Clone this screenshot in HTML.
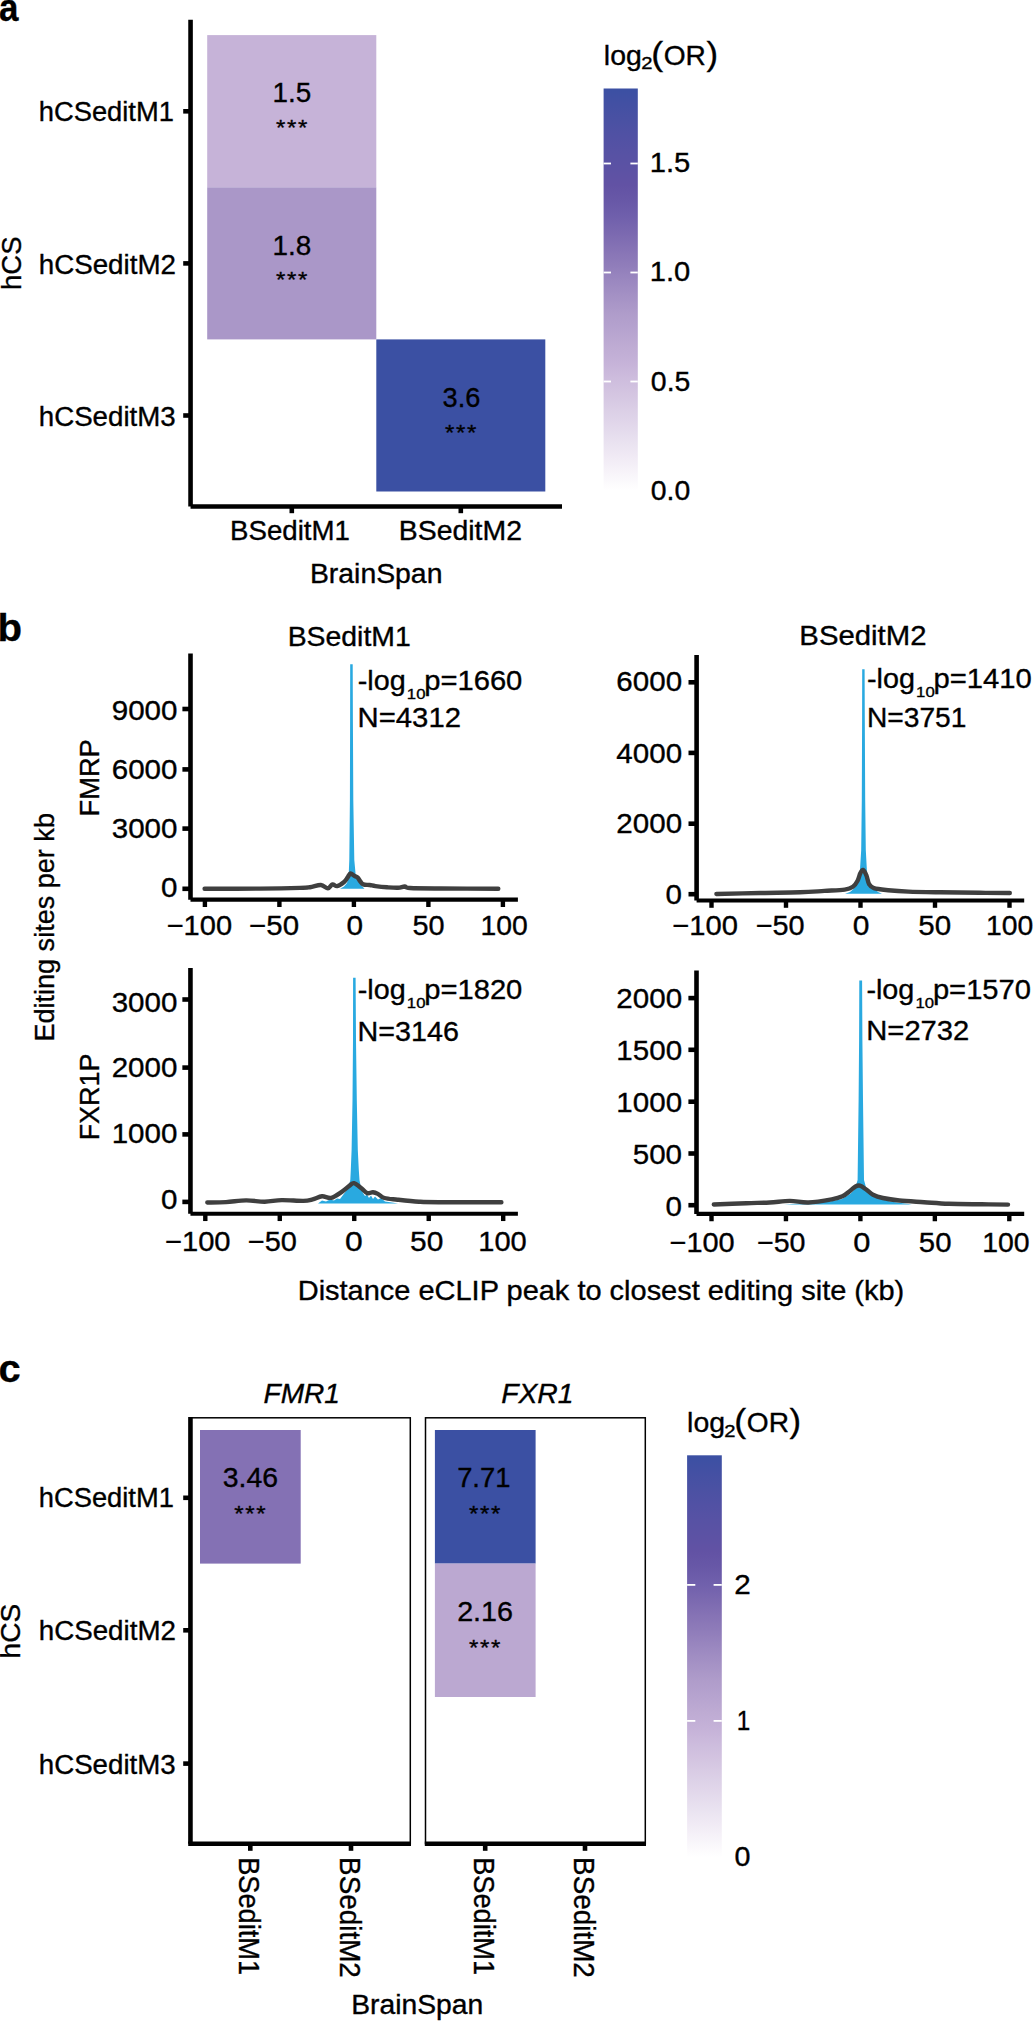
<!DOCTYPE html>
<html><head><meta charset="utf-8"><style>
html,body{margin:0;padding:0;background:#fff;width:1033px;height:2021px;overflow:hidden}
svg{display:block}
text{font-family:"Liberation Sans",sans-serif;stroke:#000;stroke-width:0.35px}
</style></head><body>
<svg width="1033" height="2021" viewBox="0 0 1033 2021">
<defs><linearGradient id="ga" x1="0" y1="1" x2="0" y2="0"><stop offset="0.000" stop-color="rgb(255,255,255)"/><stop offset="0.040" stop-color="rgb(248,245,250)"/><stop offset="0.080" stop-color="rgb(241,235,245)"/><stop offset="0.120" stop-color="rgb(233,226,240)"/><stop offset="0.160" stop-color="rgb(226,216,235)"/><stop offset="0.200" stop-color="rgb(219,207,230)"/><stop offset="0.240" stop-color="rgb(212,197,225)"/><stop offset="0.280" stop-color="rgb(205,188,221)"/><stop offset="0.320" stop-color="rgb(197,178,216)"/><stop offset="0.360" stop-color="rgb(190,171,211)"/><stop offset="0.400" stop-color="rgb(182,163,207)"/><stop offset="0.440" stop-color="rgb(175,156,202)"/><stop offset="0.480" stop-color="rgb(165,146,197)"/><stop offset="0.520" stop-color="rgb(155,136,192)"/><stop offset="0.560" stop-color="rgb(144,125,186)"/><stop offset="0.600" stop-color="rgb(134,115,181)"/><stop offset="0.640" stop-color="rgb(123,105,176)"/><stop offset="0.680" stop-color="rgb(112,96,172)"/><stop offset="0.720" stop-color="rgb(104,88,167)"/><stop offset="0.760" stop-color="rgb(98,82,164)"/><stop offset="0.800" stop-color="rgb(92,82,164)"/><stop offset="0.840" stop-color="rgb(87,82,164)"/><stop offset="0.880" stop-color="rgb(81,81,164)"/><stop offset="0.920" stop-color="rgb(74,81,163)"/><stop offset="0.960" stop-color="rgb(67,80,163)"/><stop offset="1.000" stop-color="rgb(59,80,163)"/></linearGradient><linearGradient id="gc" x1="0" y1="1" x2="0" y2="0"><stop offset="0.000" stop-color="rgb(255,255,255)"/><stop offset="0.040" stop-color="rgb(248,245,250)"/><stop offset="0.080" stop-color="rgb(241,235,245)"/><stop offset="0.120" stop-color="rgb(233,226,240)"/><stop offset="0.160" stop-color="rgb(226,216,235)"/><stop offset="0.200" stop-color="rgb(219,207,230)"/><stop offset="0.240" stop-color="rgb(212,197,225)"/><stop offset="0.280" stop-color="rgb(205,188,221)"/><stop offset="0.320" stop-color="rgb(197,178,216)"/><stop offset="0.360" stop-color="rgb(190,171,211)"/><stop offset="0.400" stop-color="rgb(182,163,207)"/><stop offset="0.440" stop-color="rgb(175,156,202)"/><stop offset="0.480" stop-color="rgb(165,146,197)"/><stop offset="0.520" stop-color="rgb(155,136,192)"/><stop offset="0.560" stop-color="rgb(144,125,186)"/><stop offset="0.600" stop-color="rgb(134,115,181)"/><stop offset="0.640" stop-color="rgb(123,105,176)"/><stop offset="0.680" stop-color="rgb(112,96,172)"/><stop offset="0.720" stop-color="rgb(104,88,167)"/><stop offset="0.760" stop-color="rgb(98,82,164)"/><stop offset="0.800" stop-color="rgb(92,82,164)"/><stop offset="0.840" stop-color="rgb(87,82,164)"/><stop offset="0.880" stop-color="rgb(81,81,164)"/><stop offset="0.920" stop-color="rgb(74,81,163)"/><stop offset="0.960" stop-color="rgb(67,80,163)"/><stop offset="1.000" stop-color="rgb(59,80,163)"/></linearGradient></defs>
<rect x="0" y="0" width="1033" height="2021" fill="#fff"/>
<text x="-1.05" y="20.60" font-size="38.50" font-weight="bold" textLength="19.43" lengthAdjust="spacingAndGlyphs" fill="#000">a</text>
<rect x="207.20" y="35.10" width="169.10" height="152.20" fill="#c6b3d8"/>
<rect x="207.20" y="187.30" width="169.10" height="152.10" fill="#aa97c8"/>
<rect x="376.30" y="339.40" width="169.00" height="152.10" fill="#3b50a3"/>
<text x="272.51" y="102.40" font-size="27.00" textLength="38.71" lengthAdjust="spacingAndGlyphs" fill="#000">1.5</text>
<text transform="translate(275.88 135.22) scale(0.998 0.917)" x="0" y="0" font-size="24" stroke="#000" stroke-width="0.55" fill="#000">*</text>
<text transform="translate(286.93 135.22) scale(0.998 0.917)" x="0" y="0" font-size="24" stroke="#000" stroke-width="0.55" fill="#000">*</text>
<text transform="translate(297.98 135.22) scale(0.998 0.917)" x="0" y="0" font-size="24" stroke="#000" stroke-width="0.55" fill="#000">*</text>
<text x="272.51" y="254.60" font-size="27.00" textLength="38.78" lengthAdjust="spacingAndGlyphs" fill="#000">1.8</text>
<text transform="translate(275.88 287.43) scale(0.998 0.917)" x="0" y="0" font-size="24" stroke="#000" stroke-width="0.55" fill="#000">*</text>
<text transform="translate(286.93 287.43) scale(0.998 0.917)" x="0" y="0" font-size="24" stroke="#000" stroke-width="0.55" fill="#000">*</text>
<text transform="translate(297.98 287.43) scale(0.998 0.917)" x="0" y="0" font-size="24" stroke="#000" stroke-width="0.55" fill="#000">*</text>
<text x="442.58" y="406.70" font-size="27.00" textLength="37.78" lengthAdjust="spacingAndGlyphs" fill="#000">3.6</text>
<text transform="translate(444.88 439.52) scale(0.998 0.917)" x="0" y="0" font-size="24" stroke="#000" stroke-width="0.55" fill="#000">*</text>
<text transform="translate(455.93 439.52) scale(0.998 0.917)" x="0" y="0" font-size="24" stroke="#000" stroke-width="0.55" fill="#000">*</text>
<text transform="translate(466.98 439.52) scale(0.998 0.917)" x="0" y="0" font-size="24" stroke="#000" stroke-width="0.55" fill="#000">*</text>
<line x1="190.55" y1="19.70" x2="190.55" y2="506.50" stroke="#000" stroke-width="4.60" stroke-linecap="butt"/>
<line x1="190.55" y1="506.50" x2="562.00" y2="506.50" stroke="#000" stroke-width="4.40" stroke-linecap="butt"/>
<line x1="183.20" y1="111.30" x2="190.00" y2="111.30" stroke="#000" stroke-width="4.60" stroke-linecap="butt"/>
<line x1="183.20" y1="263.40" x2="190.00" y2="263.40" stroke="#000" stroke-width="4.60" stroke-linecap="butt"/>
<line x1="183.20" y1="415.50" x2="190.00" y2="415.50" stroke="#000" stroke-width="4.60" stroke-linecap="butt"/>
<line x1="291.80" y1="506.00" x2="291.80" y2="513.20" stroke="#000" stroke-width="4.60" stroke-linecap="butt"/>
<line x1="460.80" y1="506.00" x2="460.80" y2="513.20" stroke="#000" stroke-width="4.60" stroke-linecap="butt"/>
<text x="38.79" y="121.30" font-size="27.00" textLength="135.06" lengthAdjust="spacingAndGlyphs" fill="#000">hCSeditM1</text>
<text x="38.76" y="273.50" font-size="27.00" textLength="137.18" lengthAdjust="spacingAndGlyphs" fill="#000">hCSeditM2</text>
<text x="38.76" y="425.60" font-size="27.00" textLength="136.97" lengthAdjust="spacingAndGlyphs" fill="#000">hCSeditM3</text>
<text transform="translate(20.60 288.10) rotate(-90)" x="-1.93" y="0" font-size="27.00" textLength="53.54" lengthAdjust="spacingAndGlyphs" fill="#000">hCS</text>
<text x="230.12" y="539.70" font-size="27.00" textLength="119.81" lengthAdjust="spacingAndGlyphs" fill="#000">BSeditM1</text>
<text x="398.86" y="539.70" font-size="27.00" textLength="123.08" lengthAdjust="spacingAndGlyphs" fill="#000">BSeditM2</text>
<text x="309.96" y="583.00" font-size="27.00" textLength="132.48" lengthAdjust="spacingAndGlyphs" fill="#000">BrainSpan</text>
<rect x="603.6" y="88.5" width="34.2" height="402" fill="url(#ga)"/>
<line x1="603.60" y1="381.50" x2="611.00" y2="381.50" stroke="#fff" stroke-width="1.80" stroke-linecap="butt"/>
<line x1="630.40" y1="381.50" x2="637.80" y2="381.50" stroke="#fff" stroke-width="1.80" stroke-linecap="butt"/>
<line x1="603.60" y1="272.50" x2="611.00" y2="272.50" stroke="#fff" stroke-width="1.80" stroke-linecap="butt"/>
<line x1="630.40" y1="272.50" x2="637.80" y2="272.50" stroke="#fff" stroke-width="1.80" stroke-linecap="butt"/>
<line x1="603.60" y1="163.50" x2="611.00" y2="163.50" stroke="#fff" stroke-width="1.80" stroke-linecap="butt"/>
<line x1="630.40" y1="163.50" x2="637.80" y2="163.50" stroke="#fff" stroke-width="1.80" stroke-linecap="butt"/>
<text x="603.88" y="64.60" font-size="27.50" textLength="37.95" lengthAdjust="spacingAndGlyphs" fill="#000">log</text>
<text x="641.19" y="69.30" font-size="17.00" textLength="11.25" lengthAdjust="spacingAndGlyphs" fill="#000">2</text>
<text x="651.16" y="64.60" font-size="34.00" textLength="11.93" lengthAdjust="spacingAndGlyphs" fill="#000">(</text>
<text x="663.66" y="64.60" font-size="28.00" textLength="42.17" lengthAdjust="spacingAndGlyphs" fill="#000">OR</text>
<text x="706.44" y="64.60" font-size="34.00" textLength="11.54" lengthAdjust="spacingAndGlyphs" fill="#000">)</text>
<text x="649.81" y="172.30" font-size="27.00" textLength="40.56" lengthAdjust="spacingAndGlyphs" fill="#000">1.5</text>
<text x="649.82" y="281.30" font-size="27.00" textLength="40.48" lengthAdjust="spacingAndGlyphs" fill="#000">1.0</text>
<text x="650.86" y="391.10" font-size="27.00" textLength="39.48" lengthAdjust="spacingAndGlyphs" fill="#000">0.5</text>
<text x="650.87" y="500.00" font-size="27.00" textLength="39.40" lengthAdjust="spacingAndGlyphs" fill="#000">0.0</text>
<text x="-2.61" y="641.00" font-size="38.50" font-weight="bold" textLength="24.55" lengthAdjust="spacingAndGlyphs" fill="#000">b</text>
<line x1="190.50" y1="653.60" x2="190.50" y2="899.70" stroke="#000" stroke-width="4.60" stroke-linecap="butt"/>
<line x1="190.50" y1="899.70" x2="517.90" y2="899.70" stroke="#000" stroke-width="4.20" stroke-linecap="butt"/>
<line x1="182.40" y1="888.80" x2="189.50" y2="888.80" stroke="#000" stroke-width="4.60" stroke-linecap="butt"/>
<text x="161.01" y="896.63" font-size="28.00" textLength="16.43" lengthAdjust="spacingAndGlyphs" fill="#000">0</text>
<line x1="182.40" y1="828.60" x2="189.50" y2="828.60" stroke="#000" stroke-width="4.60" stroke-linecap="butt"/>
<text x="111.76" y="837.93" font-size="28.00" textLength="65.72" lengthAdjust="spacingAndGlyphs" fill="#000">3000</text>
<line x1="182.40" y1="769.40" x2="189.50" y2="769.40" stroke="#000" stroke-width="4.60" stroke-linecap="butt"/>
<text x="111.76" y="779.13" font-size="28.00" textLength="65.72" lengthAdjust="spacingAndGlyphs" fill="#000">6000</text>
<line x1="182.40" y1="709.00" x2="189.50" y2="709.00" stroke="#000" stroke-width="4.60" stroke-linecap="butt"/>
<text x="111.76" y="720.43" font-size="28.00" textLength="65.72" lengthAdjust="spacingAndGlyphs" fill="#000">9000</text>
<line x1="204.90" y1="900.70" x2="204.90" y2="907.00" stroke="#000" stroke-width="4.40" stroke-linecap="butt"/>
<text x="166.65" y="935.13" font-size="28.00" textLength="65.44" lengthAdjust="spacingAndGlyphs" fill="#000">−100</text>
<line x1="279.40" y1="900.70" x2="279.40" y2="907.00" stroke="#000" stroke-width="4.40" stroke-linecap="butt"/>
<text x="249.13" y="935.13" font-size="28.00" textLength="49.91" lengthAdjust="spacingAndGlyphs" fill="#000">−50</text>
<line x1="353.90" y1="900.70" x2="353.90" y2="907.00" stroke="#000" stroke-width="4.40" stroke-linecap="butt"/>
<text x="346.41" y="935.13" font-size="28.00" textLength="16.54" lengthAdjust="spacingAndGlyphs" fill="#000">0</text>
<line x1="428.40" y1="900.70" x2="428.40" y2="907.00" stroke="#000" stroke-width="4.40" stroke-linecap="butt"/>
<text x="412.45" y="935.13" font-size="28.00" textLength="32.10" lengthAdjust="spacingAndGlyphs" fill="#000">50</text>
<line x1="502.90" y1="900.70" x2="502.90" y2="907.00" stroke="#000" stroke-width="4.40" stroke-linecap="butt"/>
<text x="480.48" y="935.13" font-size="28.00" textLength="47.21" lengthAdjust="spacingAndGlyphs" fill="#000">100</text>
<polygon points="340.0,888.8 344.0,886.5 347.0,883.0 348.6,877.0 349.3,860.0 349.9,800.0 350.1,720.0 350.2,664.2 352.7,664.2 352.9,720.0 353.3,800.0 354.3,860.0 355.6,874.0 358.0,880.0 361.0,885.0 364.5,888.8" fill="#29a9e0"/>
<path d="M204.60,888.80 C213.83,888.77 244.10,888.75 260.00,888.60 C275.90,888.45 291.67,888.13 300.00,887.90 C308.33,887.67 306.52,887.68 310.00,887.20 C313.48,886.72 317.92,884.82 320.90,885.00 C323.88,885.18 325.97,888.40 327.90,888.30 C329.83,888.20 330.95,884.77 332.50,884.40 C334.05,884.03 335.27,886.50 337.20,886.10 C339.13,885.70 342.37,883.45 344.10,882.00 C345.83,880.55 346.53,878.83 347.60,877.40 C348.67,875.97 349.43,873.68 350.50,873.40 C351.57,873.12 352.83,875.03 354.00,875.70 C355.17,876.37 356.43,876.43 357.50,877.40 C358.57,878.37 359.43,880.33 360.40,881.50 C361.37,882.67 361.75,883.82 363.30,884.40 C364.85,884.98 367.67,884.72 369.70,885.00 C371.73,885.28 372.60,885.72 375.50,886.10 C378.40,886.48 383.35,887.02 387.10,887.30 C390.85,887.58 395.08,887.93 398.00,887.80 C400.92,887.67 402.60,886.47 404.60,886.50 C406.60,886.53 404.10,887.67 410.00,888.00 C415.90,888.33 425.28,888.37 440.00,888.50 C454.72,888.63 488.58,888.75 498.30,888.80" fill="none" stroke="#3f3f3f" stroke-width="4.4" stroke-linejoin="round" stroke-linecap="round"/>
<text x="357.70" y="689.70" font-size="28.00" textLength="47.99" lengthAdjust="spacingAndGlyphs" fill="#000">-log</text>
<text x="406.84" y="698.70" font-size="15.50" textLength="18.62" lengthAdjust="spacingAndGlyphs" fill="#000">10</text>
<text x="424.20" y="689.70" font-size="28.00" textLength="98.16" lengthAdjust="spacingAndGlyphs" fill="#000">p=1660</text>
<text x="357.58" y="727.10" font-size="28.00" textLength="103.40" lengthAdjust="spacingAndGlyphs" fill="#000">N=4312</text>
<line x1="696.60" y1="654.90" x2="696.60" y2="900.50" stroke="#000" stroke-width="4.60" stroke-linecap="butt"/>
<line x1="696.60" y1="900.50" x2="1024.20" y2="900.50" stroke="#000" stroke-width="4.20" stroke-linecap="butt"/>
<line x1="688.50" y1="894.20" x2="695.60" y2="894.20" stroke="#000" stroke-width="4.60" stroke-linecap="butt"/>
<text x="665.61" y="903.93" font-size="28.00" textLength="16.43" lengthAdjust="spacingAndGlyphs" fill="#000">0</text>
<line x1="688.50" y1="823.70" x2="695.60" y2="823.70" stroke="#000" stroke-width="4.60" stroke-linecap="butt"/>
<text x="616.36" y="833.43" font-size="28.00" textLength="65.72" lengthAdjust="spacingAndGlyphs" fill="#000">2000</text>
<line x1="688.50" y1="752.90" x2="695.60" y2="752.90" stroke="#000" stroke-width="4.60" stroke-linecap="butt"/>
<text x="616.36" y="762.63" font-size="28.00" textLength="65.72" lengthAdjust="spacingAndGlyphs" fill="#000">4000</text>
<line x1="688.50" y1="682.30" x2="695.60" y2="682.30" stroke="#000" stroke-width="4.60" stroke-linecap="butt"/>
<text x="616.36" y="690.63" font-size="28.00" textLength="65.72" lengthAdjust="spacingAndGlyphs" fill="#000">6000</text>
<line x1="711.50" y1="901.50" x2="711.50" y2="907.80" stroke="#000" stroke-width="4.40" stroke-linecap="butt"/>
<text x="672.34" y="935.33" font-size="28.00" textLength="65.65" lengthAdjust="spacingAndGlyphs" fill="#000">−100</text>
<line x1="786.00" y1="901.50" x2="786.00" y2="907.80" stroke="#000" stroke-width="4.40" stroke-linecap="butt"/>
<text x="755.66" y="935.33" font-size="28.00" textLength="48.96" lengthAdjust="spacingAndGlyphs" fill="#000">−50</text>
<line x1="860.50" y1="901.50" x2="860.50" y2="907.80" stroke="#000" stroke-width="4.40" stroke-linecap="butt"/>
<text x="852.80" y="935.33" font-size="28.00" textLength="16.66" lengthAdjust="spacingAndGlyphs" fill="#000">0</text>
<line x1="935.00" y1="901.50" x2="935.00" y2="907.80" stroke="#000" stroke-width="4.40" stroke-linecap="butt"/>
<text x="918.22" y="935.33" font-size="28.00" textLength="32.86" lengthAdjust="spacingAndGlyphs" fill="#000">50</text>
<line x1="1009.50" y1="901.50" x2="1009.50" y2="907.80" stroke="#000" stroke-width="4.40" stroke-linecap="butt"/>
<text x="986.08" y="935.33" font-size="28.00" textLength="47.21" lengthAdjust="spacingAndGlyphs" fill="#000">100</text>
<polygon points="845.0,893.8 850.0,892.0 854.0,888.5 857.5,883.0 859.6,876.0 861.2,850.0 861.8,800.0 862.1,720.0 862.2,669.3 864.6,669.3 864.8,720.0 865.2,800.0 865.8,850.0 867.2,876.0 870.0,883.0 874.0,888.5 878.0,892.0 882.0,893.8" fill="#29a9e0"/>
<path d="M716.40,894.00 C723.67,893.83 746.07,893.28 760.00,893.00 C773.93,892.72 789.27,892.65 800.00,892.30 C810.73,891.95 816.95,891.35 824.40,890.90 C831.85,890.45 839.95,890.28 844.70,889.60 C849.45,888.92 850.75,888.28 852.90,886.80 C855.05,885.32 856.37,882.95 857.60,880.70 C858.83,878.45 859.40,875.10 860.30,873.30 C861.20,871.50 861.98,869.57 863.00,869.90 C864.02,870.23 865.38,872.93 866.40,875.30 C867.42,877.67 867.85,881.95 869.10,884.10 C870.35,886.25 870.73,887.18 873.90,888.20 C877.07,889.22 882.35,889.63 888.10,890.20 C893.85,890.77 899.75,891.25 908.40,891.60 C917.05,891.95 928.07,892.10 940.00,892.30 C951.93,892.50 968.37,892.68 980.00,892.80 C991.63,892.92 1004.83,892.97 1009.80,893.00" fill="none" stroke="#3f3f3f" stroke-width="4.4" stroke-linejoin="round" stroke-linecap="round"/>
<text x="867.00" y="687.80" font-size="28.00" textLength="47.99" lengthAdjust="spacingAndGlyphs" fill="#000">-log</text>
<text x="916.14" y="696.80" font-size="15.50" textLength="18.62" lengthAdjust="spacingAndGlyphs" fill="#000">10</text>
<text x="933.50" y="687.80" font-size="28.00" textLength="98.36" lengthAdjust="spacingAndGlyphs" fill="#000">p=1410</text>
<text x="866.98" y="727.30" font-size="28.00" textLength="99.48" lengthAdjust="spacingAndGlyphs" fill="#000">N=3751</text>
<line x1="190.45" y1="968.10" x2="190.45" y2="1213.75" stroke="#000" stroke-width="4.60" stroke-linecap="butt"/>
<line x1="190.45" y1="1213.75" x2="517.90" y2="1213.75" stroke="#000" stroke-width="4.20" stroke-linecap="butt"/>
<line x1="182.35" y1="1201.90" x2="189.45" y2="1201.90" stroke="#000" stroke-width="4.60" stroke-linecap="butt"/>
<text x="160.91" y="1209.13" font-size="28.00" textLength="16.43" lengthAdjust="spacingAndGlyphs" fill="#000">0</text>
<line x1="182.35" y1="1134.40" x2="189.45" y2="1134.40" stroke="#000" stroke-width="4.60" stroke-linecap="butt"/>
<text x="111.66" y="1142.93" font-size="28.00" textLength="65.72" lengthAdjust="spacingAndGlyphs" fill="#000">1000</text>
<line x1="182.35" y1="1067.60" x2="189.45" y2="1067.60" stroke="#000" stroke-width="4.60" stroke-linecap="butt"/>
<text x="111.66" y="1077.23" font-size="28.00" textLength="65.72" lengthAdjust="spacingAndGlyphs" fill="#000">2000</text>
<line x1="182.35" y1="999.50" x2="189.45" y2="999.50" stroke="#000" stroke-width="4.60" stroke-linecap="butt"/>
<text x="111.66" y="1011.53" font-size="28.00" textLength="65.72" lengthAdjust="spacingAndGlyphs" fill="#000">3000</text>
<line x1="205.30" y1="1214.75" x2="205.30" y2="1221.05" stroke="#000" stroke-width="4.40" stroke-linecap="butt"/>
<text x="164.94" y="1251.43" font-size="28.00" textLength="65.65" lengthAdjust="spacingAndGlyphs" fill="#000">−100</text>
<line x1="279.77" y1="1214.75" x2="279.77" y2="1221.05" stroke="#000" stroke-width="4.40" stroke-linecap="butt"/>
<text x="247.75" y="1251.43" font-size="28.00" textLength="49.07" lengthAdjust="spacingAndGlyphs" fill="#000">−50</text>
<line x1="354.25" y1="1214.75" x2="354.25" y2="1221.05" stroke="#000" stroke-width="4.40" stroke-linecap="butt"/>
<text x="345.03" y="1251.43" font-size="28.00" textLength="17.70" lengthAdjust="spacingAndGlyphs" fill="#000">0</text>
<line x1="428.73" y1="1214.75" x2="428.73" y2="1221.05" stroke="#000" stroke-width="4.40" stroke-linecap="butt"/>
<text x="410.10" y="1251.43" font-size="28.00" textLength="33.29" lengthAdjust="spacingAndGlyphs" fill="#000">50</text>
<line x1="503.20" y1="1214.75" x2="503.20" y2="1221.05" stroke="#000" stroke-width="4.40" stroke-linecap="butt"/>
<text x="478.22" y="1251.43" font-size="28.00" textLength="48.50" lengthAdjust="spacingAndGlyphs" fill="#000">100</text>
<polygon points="318.0,1203.5 322.0,1200.5 326.0,1201.5 330.0,1199.5 334.0,1200.5 337.0,1198.5 340.0,1199.0 343.0,1195.0 346.0,1191.0 348.5,1187.0 350.3,1180.0 350.8,1170.0 351.6,1150.0 352.5,1100.0 353.0,1040.0 353.1,977.8 355.6,977.8 356.0,1040.0 356.8,1100.0 357.8,1150.0 358.8,1170.0 359.5,1180.0 361.0,1188.0 363.0,1193.0 365.0,1196.0 367.0,1194.5 369.0,1198.0 371.0,1195.5 373.0,1199.0 375.0,1196.5 378.0,1199.5 381.0,1198.0 385.0,1201.5 392.0,1202.5 398.0,1203.5" fill="#29a9e0"/>
<path d="M207.30,1202.50 C210.42,1202.43 219.53,1202.45 226.00,1202.10 C232.47,1201.75 239.65,1200.47 246.10,1200.40 C252.55,1200.33 258.77,1201.75 264.70,1201.70 C270.63,1201.65 275.25,1200.23 281.70,1200.10 C288.15,1199.97 298.23,1201.02 303.40,1200.90 C308.57,1200.78 309.60,1200.17 312.70,1199.40 C315.80,1198.63 318.90,1196.57 322.00,1196.30 C325.10,1196.03 327.95,1198.58 331.30,1197.80 C334.65,1197.02 339.00,1193.67 342.10,1191.60 C345.20,1189.53 347.92,1186.80 349.90,1185.40 C351.88,1184.00 352.08,1182.73 354.00,1183.20 C355.92,1183.67 359.20,1186.55 361.40,1188.20 C363.60,1189.85 365.28,1192.42 367.20,1193.10 C369.12,1193.78 371.12,1192.17 372.90,1192.30 C374.68,1192.43 375.98,1192.95 377.90,1193.90 C379.82,1194.85 381.12,1197.03 384.40,1198.00 C387.68,1198.97 391.83,1199.08 397.60,1199.70 C403.37,1200.32 412.15,1201.28 419.00,1201.70 C425.85,1202.12 424.97,1202.12 438.70,1202.20 C452.43,1202.28 490.95,1202.20 501.40,1202.20" fill="none" stroke="#3f3f3f" stroke-width="4.4" stroke-linejoin="round" stroke-linecap="round"/>
<text x="357.70" y="999.40" font-size="28.00" textLength="47.99" lengthAdjust="spacingAndGlyphs" fill="#000">-log</text>
<text x="406.84" y="1008.40" font-size="15.50" textLength="18.62" lengthAdjust="spacingAndGlyphs" fill="#000">10</text>
<text x="424.20" y="999.40" font-size="28.00" textLength="98.16" lengthAdjust="spacingAndGlyphs" fill="#000">p=1820</text>
<text x="357.63" y="1040.80" font-size="28.00" textLength="101.31" lengthAdjust="spacingAndGlyphs" fill="#000">N=3146</text>
<line x1="696.50" y1="970.40" x2="696.50" y2="1213.95" stroke="#000" stroke-width="4.60" stroke-linecap="butt"/>
<line x1="696.50" y1="1213.95" x2="1024.20" y2="1213.95" stroke="#000" stroke-width="4.20" stroke-linecap="butt"/>
<line x1="688.40" y1="1205.20" x2="695.50" y2="1205.20" stroke="#000" stroke-width="4.60" stroke-linecap="butt"/>
<text x="665.61" y="1215.53" font-size="28.00" textLength="16.43" lengthAdjust="spacingAndGlyphs" fill="#000">0</text>
<line x1="688.40" y1="1153.50" x2="695.50" y2="1153.50" stroke="#000" stroke-width="4.60" stroke-linecap="butt"/>
<text x="632.75" y="1163.83" font-size="28.00" textLength="49.29" lengthAdjust="spacingAndGlyphs" fill="#000">500</text>
<line x1="688.40" y1="1101.70" x2="695.50" y2="1101.70" stroke="#000" stroke-width="4.60" stroke-linecap="butt"/>
<text x="616.36" y="1112.03" font-size="28.00" textLength="65.72" lengthAdjust="spacingAndGlyphs" fill="#000">1000</text>
<line x1="688.40" y1="1049.80" x2="695.50" y2="1049.80" stroke="#000" stroke-width="4.60" stroke-linecap="butt"/>
<text x="616.36" y="1060.13" font-size="28.00" textLength="65.72" lengthAdjust="spacingAndGlyphs" fill="#000">1500</text>
<line x1="688.40" y1="998.10" x2="695.50" y2="998.10" stroke="#000" stroke-width="4.60" stroke-linecap="butt"/>
<text x="616.36" y="1008.43" font-size="28.00" textLength="65.72" lengthAdjust="spacingAndGlyphs" fill="#000">2000</text>
<line x1="711.50" y1="1214.95" x2="711.50" y2="1221.25" stroke="#000" stroke-width="4.40" stroke-linecap="butt"/>
<text x="669.55" y="1251.63" font-size="28.00" textLength="65.13" lengthAdjust="spacingAndGlyphs" fill="#000">−100</text>
<line x1="785.95" y1="1214.95" x2="785.95" y2="1221.25" stroke="#000" stroke-width="4.40" stroke-linecap="butt"/>
<text x="756.97" y="1251.63" font-size="28.00" textLength="48.54" lengthAdjust="spacingAndGlyphs" fill="#000">−50</text>
<line x1="860.40" y1="1214.95" x2="860.40" y2="1221.25" stroke="#000" stroke-width="4.40" stroke-linecap="butt"/>
<text x="853.37" y="1251.63" font-size="28.00" textLength="17.12" lengthAdjust="spacingAndGlyphs" fill="#000">0</text>
<line x1="934.85" y1="1214.95" x2="934.85" y2="1221.25" stroke="#000" stroke-width="4.40" stroke-linecap="butt"/>
<text x="918.83" y="1251.63" font-size="28.00" textLength="32.64" lengthAdjust="spacingAndGlyphs" fill="#000">50</text>
<line x1="1009.30" y1="1214.95" x2="1009.30" y2="1221.25" stroke="#000" stroke-width="4.40" stroke-linecap="butt"/>
<text x="982.17" y="1251.63" font-size="28.00" textLength="47.43" lengthAdjust="spacingAndGlyphs" fill="#000">100</text>
<polygon points="784.0,1204.5 800.0,1203.5 830.0,1201.5 842.0,1199.0 850.0,1194.0 855.0,1189.0 857.6,1180.0 858.6,1100.0 859.1,1040.0 859.3,980.5 862.1,980.5 862.4,1040.0 863.0,1100.0 864.0,1180.0 867.0,1191.0 874.0,1197.0 890.0,1201.5 912.0,1204.5" fill="#29a9e0"/>
<path d="M713.80,1204.50 C719.25,1204.28 737.18,1203.53 746.50,1203.20 C755.82,1202.87 762.48,1202.88 769.70,1202.50 C776.92,1202.12 783.35,1200.90 789.80,1200.90 C796.25,1200.90 801.42,1202.75 808.40,1202.50 C815.38,1202.25 826.02,1200.43 831.70,1199.40 C837.38,1198.37 839.42,1197.73 842.50,1196.30 C845.58,1194.87 848.03,1192.43 850.20,1190.80 C852.37,1189.17 853.88,1187.35 855.50,1186.50 C857.12,1185.65 858.07,1185.15 859.90,1185.70 C861.73,1186.25 864.32,1188.30 866.50,1189.80 C868.68,1191.30 870.27,1193.33 873.00,1194.70 C875.73,1196.07 878.50,1197.03 882.90,1198.00 C887.30,1198.97 892.53,1199.80 899.40,1200.50 C906.27,1201.20 915.88,1201.65 924.10,1202.20 C932.32,1202.75 939.10,1203.45 948.70,1203.80 C958.30,1204.15 971.82,1204.17 981.70,1204.30 C991.58,1204.43 1003.62,1204.55 1008.00,1204.60" fill="none" stroke="#3f3f3f" stroke-width="4.4" stroke-linejoin="round" stroke-linecap="round"/>
<text x="866.40" y="999.20" font-size="28.00" textLength="47.99" lengthAdjust="spacingAndGlyphs" fill="#000">-log</text>
<text x="915.54" y="1008.20" font-size="15.50" textLength="18.62" lengthAdjust="spacingAndGlyphs" fill="#000">10</text>
<text x="932.91" y="999.20" font-size="28.00" textLength="98.05" lengthAdjust="spacingAndGlyphs" fill="#000">p=1570</text>
<text x="866.29" y="1040.00" font-size="28.00" textLength="102.99" lengthAdjust="spacingAndGlyphs" fill="#000">N=2732</text>
<text x="287.66" y="646.40" font-size="28.00" textLength="123.11" lengthAdjust="spacingAndGlyphs" fill="#000">BSeditM1</text>
<text x="799.38" y="645.00" font-size="28.00" textLength="127.10" lengthAdjust="spacingAndGlyphs" fill="#000">BSeditM2</text>
<text transform="translate(53.60 1039.40) rotate(-90)" x="-2.23" y="0" font-size="27.00" textLength="228.55" lengthAdjust="spacingAndGlyphs" fill="#000">Editing sites per kb</text>
<text transform="translate(98.60 814.20) rotate(-90)" x="-2.25" y="0" font-size="28.20" textLength="77.19" lengthAdjust="spacingAndGlyphs" fill="#000">FMRP</text>
<text transform="translate(98.80 1138.10) rotate(-90)" x="-2.22" y="0" font-size="28.20" textLength="86.75" lengthAdjust="spacingAndGlyphs" fill="#000">FXR1P</text>
<text x="297.71" y="1299.90" font-size="28.00" textLength="606.57" lengthAdjust="spacingAndGlyphs" fill="#000">Distance eCLIP peak to closest editing site (kb)</text>
<text x="-1.59" y="1381.60" font-size="38.50" font-weight="bold" textLength="22.13" lengthAdjust="spacingAndGlyphs" fill="#000">c</text>
<rect x="200.00" y="1430.00" width="100.70" height="133.60" fill="#8471b4"/>
<rect x="434.90" y="1430.00" width="100.70" height="133.60" fill="#3b50a3"/>
<rect x="434.90" y="1563.60" width="100.70" height="133.40" fill="#bba8d1"/>
<rect x="190.5" y="1417.8" width="219.8" height="425.8" fill="none" stroke="#000" stroke-width="1.5"/>
<rect x="425.5" y="1417.8" width="219.8" height="425.8" fill="none" stroke="#000" stroke-width="1.5"/>
<line x1="190.45" y1="1417.00" x2="190.45" y2="1843.70" stroke="#000" stroke-width="4.60" stroke-linecap="butt"/>
<line x1="188.20" y1="1843.70" x2="411.00" y2="1843.70" stroke="#000" stroke-width="4.40" stroke-linecap="butt"/>
<line x1="424.80" y1="1843.70" x2="646.00" y2="1843.70" stroke="#000" stroke-width="4.40" stroke-linecap="butt"/>
<line x1="183.20" y1="1497.80" x2="190.00" y2="1497.80" stroke="#000" stroke-width="4.60" stroke-linecap="butt"/>
<line x1="183.20" y1="1630.30" x2="190.00" y2="1630.30" stroke="#000" stroke-width="4.60" stroke-linecap="butt"/>
<line x1="183.20" y1="1763.60" x2="190.00" y2="1763.60" stroke="#000" stroke-width="4.60" stroke-linecap="butt"/>
<line x1="250.30" y1="1843.00" x2="250.30" y2="1850.80" stroke="#000" stroke-width="4.60" stroke-linecap="butt"/>
<line x1="351.00" y1="1843.00" x2="351.00" y2="1850.80" stroke="#000" stroke-width="4.60" stroke-linecap="butt"/>
<line x1="485.20" y1="1843.00" x2="485.20" y2="1850.80" stroke="#000" stroke-width="4.60" stroke-linecap="butt"/>
<line x1="585.00" y1="1843.00" x2="585.00" y2="1850.80" stroke="#000" stroke-width="4.60" stroke-linecap="butt"/>
<text x="38.79" y="1506.90" font-size="27.00" textLength="135.06" lengthAdjust="spacingAndGlyphs" fill="#000">hCSeditM1</text>
<text x="38.76" y="1640.00" font-size="27.00" textLength="137.18" lengthAdjust="spacingAndGlyphs" fill="#000">hCSeditM2</text>
<text x="38.76" y="1773.60" font-size="27.00" textLength="136.97" lengthAdjust="spacingAndGlyphs" fill="#000">hCSeditM3</text>
<text transform="translate(20.30 1656.50) rotate(-90)" x="-1.96" y="0" font-size="27.00" textLength="54.61" lengthAdjust="spacingAndGlyphs" fill="#000">hCS</text>
<text x="263.56" y="1403.10" font-size="27.00" font-style="italic" textLength="76.42" lengthAdjust="spacingAndGlyphs" fill="#000">FMR1</text>
<text x="501.15" y="1403.00" font-size="27.00" font-style="italic" textLength="72.42" lengthAdjust="spacingAndGlyphs" fill="#000">FXR1</text>
<text x="222.73" y="1487.33" font-size="27.00" textLength="55.31" lengthAdjust="spacingAndGlyphs" fill="#000">3.46</text>
<text transform="translate(234.18 1521.22) scale(0.998 0.917)" x="0" y="0" font-size="24" stroke="#000" stroke-width="0.55" fill="#000">*</text>
<text transform="translate(245.23 1521.22) scale(0.998 0.917)" x="0" y="0" font-size="24" stroke="#000" stroke-width="0.55" fill="#000">*</text>
<text transform="translate(256.28 1521.22) scale(0.998 0.917)" x="0" y="0" font-size="24" stroke="#000" stroke-width="0.55" fill="#000">*</text>
<text x="457.16" y="1487.06" font-size="27.00" textLength="53.27" lengthAdjust="spacingAndGlyphs" fill="#000">7.71</text>
<text transform="translate(468.88 1521.22) scale(0.998 0.917)" x="0" y="0" font-size="24" stroke="#000" stroke-width="0.55" fill="#000">*</text>
<text transform="translate(479.93 1521.22) scale(0.998 0.917)" x="0" y="0" font-size="24" stroke="#000" stroke-width="0.55" fill="#000">*</text>
<text transform="translate(490.98 1521.22) scale(0.998 0.917)" x="0" y="0" font-size="24" stroke="#000" stroke-width="0.55" fill="#000">*</text>
<text x="457.16" y="1621.13" font-size="27.00" textLength="55.89" lengthAdjust="spacingAndGlyphs" fill="#000">2.16</text>
<text transform="translate(468.88 1654.83) scale(0.998 0.917)" x="0" y="0" font-size="24" stroke="#000" stroke-width="0.55" fill="#000">*</text>
<text transform="translate(479.93 1654.83) scale(0.998 0.917)" x="0" y="0" font-size="24" stroke="#000" stroke-width="0.55" fill="#000">*</text>
<text transform="translate(490.98 1654.83) scale(0.998 0.917)" x="0" y="0" font-size="24" stroke="#000" stroke-width="0.55" fill="#000">*</text>
<text transform="translate(239.40 1859.40) rotate(90)" x="-2.25" y="0" font-size="28.60" textLength="118.05" lengthAdjust="spacingAndGlyphs" fill="#000">BSeditM1</text>
<text transform="translate(340.00 1859.40) rotate(90)" x="-2.30" y="0" font-size="28.60" textLength="120.70" lengthAdjust="spacingAndGlyphs" fill="#000">BSeditM2</text>
<text transform="translate(473.60 1859.40) rotate(90)" x="-2.25" y="0" font-size="28.60" textLength="118.05" lengthAdjust="spacingAndGlyphs" fill="#000">BSeditM1</text>
<text transform="translate(574.30 1859.40) rotate(90)" x="-2.30" y="0" font-size="28.60" textLength="120.70" lengthAdjust="spacingAndGlyphs" fill="#000">BSeditM2</text>
<text x="351.27" y="2014.20" font-size="27.00" textLength="131.97" lengthAdjust="spacingAndGlyphs" fill="#000">BrainSpan</text>
<rect x="687.1" y="1455.3" width="34.7" height="401.6" fill="url(#gc)"/>
<line x1="687.10" y1="1720.90" x2="695.30" y2="1720.90" stroke="#fff" stroke-width="1.80" stroke-linecap="butt"/>
<line x1="713.60" y1="1720.90" x2="721.80" y2="1720.90" stroke="#fff" stroke-width="1.80" stroke-linecap="butt"/>
<line x1="687.10" y1="1584.90" x2="695.30" y2="1584.90" stroke="#fff" stroke-width="1.80" stroke-linecap="butt"/>
<line x1="713.60" y1="1584.90" x2="721.80" y2="1584.90" stroke="#fff" stroke-width="1.80" stroke-linecap="butt"/>
<text x="687.08" y="1431.80" font-size="27.50" textLength="37.95" lengthAdjust="spacingAndGlyphs" fill="#000">log</text>
<text x="724.39" y="1436.50" font-size="17.00" textLength="11.25" lengthAdjust="spacingAndGlyphs" fill="#000">2</text>
<text x="734.36" y="1431.80" font-size="34.00" textLength="11.93" lengthAdjust="spacingAndGlyphs" fill="#000">(</text>
<text x="746.86" y="1431.80" font-size="28.00" textLength="42.17" lengthAdjust="spacingAndGlyphs" fill="#000">OR</text>
<text x="789.64" y="1431.80" font-size="34.00" textLength="11.54" lengthAdjust="spacingAndGlyphs" fill="#000">)</text>
<text x="734.32" y="1593.93" font-size="27.00" textLength="16.50" lengthAdjust="spacingAndGlyphs" fill="#000">2</text>
<text x="736.68" y="1730.16" font-size="27.00" textLength="13.50" lengthAdjust="spacingAndGlyphs" fill="#000">1</text>
<text x="734.45" y="1865.93" font-size="27.00" textLength="15.96" lengthAdjust="spacingAndGlyphs" fill="#000">0</text>
</svg>
</body></html>
